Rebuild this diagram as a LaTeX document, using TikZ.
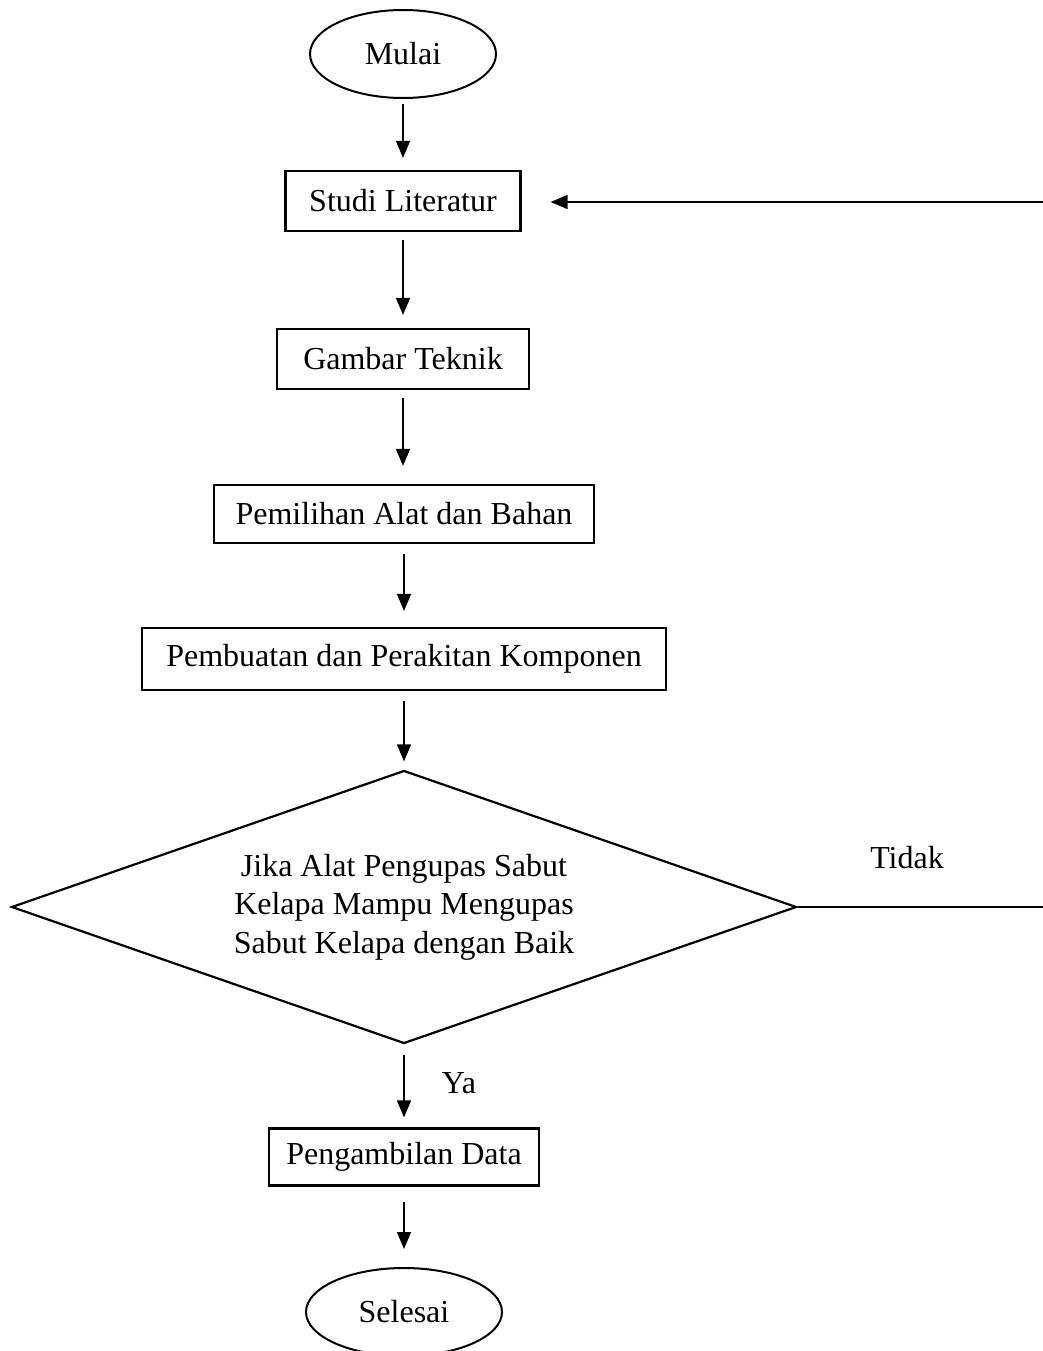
\documentclass[tikz,border=0pt]{standalone}
\usepackage{fontspec}
\setmainfont{Liberation Serif}
\usetikzlibrary{shapes.geometric,arrows.meta}
\begin{document}
\begin{tikzpicture}[x=1pt,y=-1pt,
  every node/.style={font=\fontsize{32}{38.5}\selectfont, inner sep=0pt},
  procbox/.style={draw, line width=2.2pt, rectangle, minimum height=60pt},
  term/.style={draw, line width=2pt, ellipse, minimum width=186pt, minimum height=88pt},
  decide/.style={draw, line width=2.2pt, diamond, shape aspect=2.875, minimum width=785pt, minimum height=273pt, align=center},
  flow/.style={line width=1.4pt, -{Triangle[width=14pt,length=17pt]}},
  plain/.style={line width=1.4pt}]
\useasboundingbox (0,0) rectangle (1043,1351);
\node[term] (mulai) at (403,54) {Mulai};
\node[procbox, minimum width=235pt] (studi) at (403,201) {Studi Literatur};
\node[procbox, minimum width=252pt] (gambar) at (403,359) {Gambar Teknik};
\node[procbox, minimum width=380pt, minimum height=58pt] (pilih) at (404,514) {Pemilihan Alat dan Bahan};
\node[procbox, minimum width=524pt, minimum height=62pt] (buat) at (404,659) {Pembuatan dan Perakitan Komponen};
\node[decide] (jika) at (404,907) {\raisebox{-3pt}{\begin{tabular}{@{}c@{}}Jika Alat Pengupas Sabut\\Kelapa Mampu Mengupas\\Sabut Kelapa dengan Baik\end{tabular}}};
\node[procbox, minimum width=270pt, minimum height=57pt] (ambil) at (404,1157) {Pengambilan Data};
\node[term, minimum width=196pt] (selesai) at (404,1312) {Selesai};
\node (tidak) at (907,858) {Tidak};
\node (ya) at (459,1083) {Ya};
\coordinate (kanan) at (1043,907);
\coordinate (kananatas) at (1043,202);
\draw[flow, shorten <=5pt, shorten >=12pt] (mulai.south) -- (studi.north);
\draw[flow, shorten <=8pt, shorten >=13pt] (studi.south) -- (gambar.north);
\draw[flow, shorten <=8pt, shorten >=18pt] (gambar.south) -- (gambar.south |- pilih.north);
\draw[flow, shorten <=10pt, shorten >=16pt] (pilih.south) -- (buat.north);
\draw[flow, shorten <=10pt, shorten >=8pt] (buat.south) -- (jika.north);
\draw[flow, shorten <=10pt, shorten >=10pt] (jika.south) -- (ambil.north);
\draw[flow, shorten <=15pt, shorten >=18pt] (ambil.south) -- (selesai.north);
\draw[plain] (jika.east) -- (kanan);
\draw[flow, shorten >=29pt] (kananatas) -- (studi.east |- kananatas);
\end{tikzpicture}
\end{document}
